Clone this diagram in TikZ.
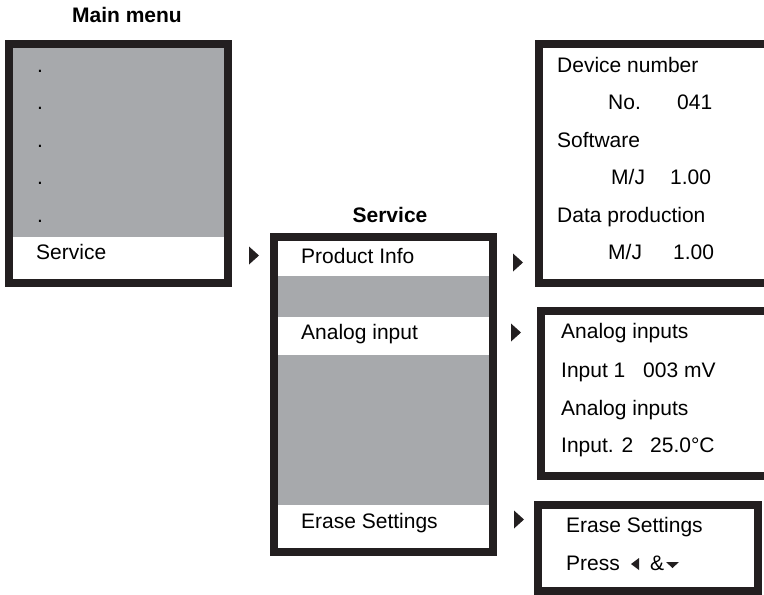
\documentclass[tikz,border=0pt]{standalone}
\usepackage{fontspec}
\setmainfont{Liberation Sans}
\definecolor{frameblack}{RGB}{35,31,32}
\definecolor{rowgray}{RGB}{167,169,172}
\begin{document}
\begin{tikzpicture}[x=1pt,y=-1pt,
  frame/.style={draw=frameblack,line width=8pt,inner sep=0pt,outer sep=0pt},
  txt/.style={anchor=base west,inner sep=0pt,font=\fontsize{21}{25}\selectfont,text=black},
  title/.style={anchor=base,inner sep=0pt,font=\fontsize{21}{25}\selectfont\bfseries,text=black},
  tri/.style={fill=frameblack,draw=none}]
\useasboundingbox (0,0) rectangle (764,595);
% ---------- main menu ----------
\node[title] (tmain) at (127,22) {Main menu};
\fill[rowgray] (13,48) rectangle (224,237);
\node[frame,minimum width=219pt,minimum height=239pt] (main) at (118.5,163.5) {};
\foreach \y/\n in {72/d1,109/d2,147/d3,184/d4,222/d5}
  \node[txt] (\n) at (37,\y) {.};
\node[txt] (msvc) at (36,259) {Service};
% ---------- service menu ----------
\node[title] (tsvc) at (390,222) {Service};
\fill[rowgray] (278,276) rectangle (489,317);
\fill[rowgray] (278,355) rectangle (489,505);
\node[frame,minimum width=219pt,minimum height=315pt] (svc) at (383.5,394.5) {};
\node[txt] (prod) at (301,263) {Product Info};
\node[txt] (anal) at (301,339) {Analog input};
\node[txt] (eras) at (301,528) {Erase Settings};
% ---------- product info screen ----------
\node[frame,minimum width=233pt,minimum height=239pt] (pinfo) at (655.5,163.5) {};
\node[txt] (p1) at (557,72) {Device number};
\node[txt] (p2a) at (608,109) {No.};
\node[txt] (p2b) at (677,109) {041};
\node[txt] (p3) at (557,147) {Software};
\node[txt] (p4a) at (611,184) {M/J};
\node[txt] (p4b) at (670,184) {1.00};
\node[txt] (p5) at (557,222) {Data production};
\node[txt] (p6a) at (608,259) {M/J};
\node[txt] (p6b) at (673,259) {1.00};
% ---------- analog screen ----------
\node[frame,minimum width=231pt,minimum height=165pt] (ainfo) at (656.5,393.5) {};
\node[txt] (a1) at (561,338) {Analog inputs};
\node[txt] (a2a) at (561,377) {Input 1};
\node[txt] (a2b) at (643,377) {003 mV};
\node[txt] (a3) at (561,415) {Analog inputs};
\node[txt] (a4a) at (561,452) {Input. 2};
\node[txt] (a4b) at (650,452) {25.0°C};
% ---------- erase screen ----------
\node[frame,minimum width=220pt,minimum height=86pt] (einfo) at (648,548) {};
\node[txt] (e1) at (566,532) {Erase Settings};
\node[txt] (e2) at (566,570) {Press};
\fill[frameblack] (639,558) -- (639,570) -- (631,564) -- cycle;
\node[txt] (amp) at (650,570) {\&};
\fill[frameblack] (666,562) -- (679,562) -- (672.5,568) -- cycle;
% ---------- arrow markers ----------
\foreach \x/\y in {259/255.5,523/262.5,521/332.5,524/519.5}
  \fill[tri] (\x,\y) -- ++(-10,-9) -- ++(0,18) -- cycle;
\end{tikzpicture}
\end{document}
